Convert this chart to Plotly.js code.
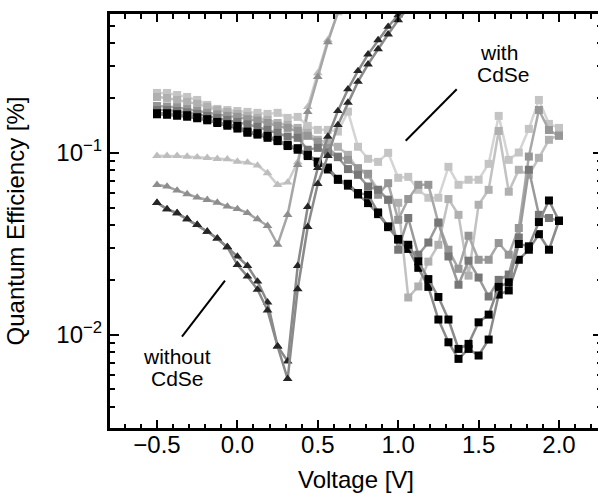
<!DOCTYPE html>
<html>
<head>
<meta charset="utf-8">
<script src="https://cdn.plot.ly/plotly-3.0.1.min.js"></script>
<style>html,body{margin:0;padding:0;overflow:hidden;background:#fff;}</style>
</head>
<body>
<div id="chart" style="width:602px;height:494px;"></div>
<script>
// Voltage grid (V)
const V = [-0.5,-0.4375,-0.375,-0.3125,-0.25,-0.1875,-0.125,-0.0625,0,0.0625,0.125,0.1875,0.25,0.3125,0.375,0.4375,0.5,0.5625,0.625,0.6875,0.75,0.8125,0.875,0.9375,1.0,1.0625,1.125,1.1875,1.25,1.3125,1.375,1.4375,1.5,1.5625,1.625,1.6875,1.75,1.8125,1.875,1.9375,2.0];

// with CdSe (squares), quantum efficiency in %
const sqLightest = [0.2136,0.2136,0.208,0.203,0.1955,0.1836,0.1745,0.172,0.170,0.168,0.166,0.1638,0.166,0.1557,0.1577,0.1407,0.1338,0.1338,0.131,0.1686,0.108,0.0927,0.0892,0.1,0.0729,0.0738,0.0626,0.0566,0.0566,0.0838,0.0667,0.0711,0.0711,0.087,0.1597,0.0915,0.1004,0.1355,0.1955,0.1443,0.1372];
const sqLight = [0.203,0.2005,0.1955,0.1906,0.186,0.179,0.172,0.168,0.1638,0.1597,0.1557,0.1518,0.146,0.1425,0.1372,0.1288,0.118,0.1135,0.108,0.0975,0.0807,0.0757,0.0626,0.0552,0.0531,0.016,0.0184,0.0252,0.0312,0.0557,0.0456,0.0211,0.0518,0.0626,0.132,0.0611,0.0807,0.0757,0.0939,0.118,0.1256];
const sqMid = [0.181,0.180,0.178,0.174,0.170,0.166,0.1627,0.1597,0.1577,0.153,0.1505,0.146,0.1407,0.1372,0.132,0.124,0.115,0.1065,0.0954,0.0915,0.0824,0.0767,0.0588,0.0681,0.0428,0.0557,0.0667,0.0667,0.0411,0.0293,0.0230,0.035,0.0258,0.0258,0.0319,0.0275,0.0386,0.0954,0.172,0.1335,0.124];
const sqDark = [0.172,0.172,0.170,0.167,0.1638,0.1597,0.1557,0.1518,0.148,0.1434,0.139,0.1338,0.1288,0.123,0.121,0.104,0.1065,0.1004,0.0947,0.0814,0.0757,0.0653,0.0626,0.0552,0.0293,0.0438,0.0275,0.0321,0.0414,0.0269,0.0188,0.0255,0.0206,0.0162,0.0200,0.0214,0.0342,0.0807,0.0456,0.0438,0.0423];
const sqBlackA = [0.1652,0.1652,0.1632,0.1611,0.1571,0.1532,0.148,0.1438,0.1407,0.1309,0.1283,0.124,0.1179,0.1106,0.1061,0.0975,0.0896,0.083,0.072,0.0676,0.0601,0.0588,0.047,0.0394,0.0336,0.0312,0.0253,0.0202,0.0161,0.0121,0.00834,0.00889,0.01168,0.01288,0.0183,0.0194,0.0315,0.0306,0.0416,0.0547,0.0423];
const sqBlackB = [0.163,0.162,0.160,0.158,0.155,0.151,0.146,0.141,0.136,0.129,0.126,0.121,0.116,0.109,0.104,0.096,0.088,0.081,0.071,0.066,0.059,0.0529,0.046,0.039,0.0333,0.0296,0.0233,0.0183,0.0121,0.00907,0.00735,0.00834,0.00767,0.00939,0.0166,0.0175,0.0258,0.0293,0.0357,0.0293,0.0423];

// without CdSe (triangles)
const triLight = [0.0963,0.0963,0.0963,0.0954,0.0947,0.0939,0.0927,0.0923,0.0896,0.0885,0.0852,0.0774,0.0667,0.0687,0.0889,0.179,0.275,0.418,0.587];
const triMid = [0.0667,0.0653,0.0621,0.0593,0.0568,0.0552,0.0533,0.0507,0.0491,0.0467,0.0432,0.0397,0.0313,0.0456,0.0859,0.168,0.262,0.407,0.596];
const triDarkA = [0.0531,0.0490,0.0466,0.0432,0.0402,0.0369,0.0338,0.0303,0.0269,0.0239,0.0196,0.01505,0.00862,0.00713,0.0239,0.0505,0.0827,0.1229,0.1701,0.2239,0.2821,0.3484,0.4177,0.4943,0.5731,0.66];
const triDarkB = [0.0531,0.0490,0.0466,0.0432,0.0402,0.0369,0.0338,0.0303,0.0242,0.0209,0.0177,0.0136,0.00862,0.00571,0.0178,0.0392,0.0676,0.0963,0.1425,0.189,0.2464,0.3072,0.3727,0.449,0.538,0.63];

const xTickVals = [-0.5,0,0.5,1,1.5,2];
const xTickText = ['\u22120.5','0.0','0.5','1.0','1.5','2.0'];
const yTickVals = [0.01,0.1];
const yTickText = ['10<sup>\u22122</sup>','10<sup>\u22121</sup>'];
const yMinorVals = [0.003,0.004,0.005,0.006,0.007,0.008,0.009,0.02,0.03,0.04,0.05,0.06,0.07,0.08,0.09,0.2,0.3,0.4,0.5];

function tr(y, sym, mcol, lcol, size){
  return {x: V.slice(0, y.length), y: y, type:'scatter', mode:'lines+markers',
    line:{color:lcol, width:2.5},
    marker:{symbol:sym, size:size, color:mcol, line:{width:0}},
    hoverinfo:'skip'};
}

const data = [
  tr(triLight,'triangle-up','#bdbdbd','#cdcdcd',8.5),
  tr(triMid,'triangle-up','#8e8e8e','#a6a6a6',8.5),
  tr(sqLightest,'square','#c4c4c4','#d4d4d4',8),
  tr(sqLight,'square','#b0b0b0','#c2c2c2',8),
  tr(sqMid,'square','#969696','#a8a8a8',8),
  tr(sqDark,'square','#777777','#999999',8),
  tr(sqBlackB,'square','#000000','#8a8a8a',8),
  tr(sqBlackA,'square','#000000','#8a8a8a',8),
  tr(triDarkA,'triangle-up','#262626','#8a8a8a',8.5),
  tr(triDarkB,'triangle-up','#262626','#8a8a8a',8.5)
];

const font = {family:'Liberation Sans, Arial, Helvetica, sans-serif', color:'#000'};
const layout = {
  width:602, height:494,
  margin:{l:110, r:0, t:14, b:66},
  paper_bgcolor:'#fff', plot_bgcolor:'#fff',
  showlegend:false,
  font: Object.assign({size:24}, font),
  xaxis:{
    range:[-0.7923, 2.2674], showgrid:false, zeroline:false,
    showline:true, linewidth:3, linecolor:'#000', mirror:'ticks',
    ticks:'inside', ticklen:8, tickwidth:2, tickcolor:'#000',
    tickmode:'array', tickvals:xTickVals, ticktext:xTickText,
    ticklabelstandoff:-7,
    tickfont:Object.assign({size:24}, font),
    minor:{ticks:'inside', ticklen:4.5, tickwidth:2, tickcolor:'#000', dtick:0.1, tick0:0, showgrid:false},
    title:{text:'Voltage [V]', font:Object.assign({size:24}, font), standoff:15}
  },
  yaxis:{
    type:'log', range:[-2.514, -0.236], showgrid:false, zeroline:false,
    showline:true, linewidth:3, linecolor:'#000', mirror:'ticks',
    ticks:'inside', ticklen:9, tickwidth:2, tickcolor:'#000',
    tickmode:'array', tickvals:yTickVals, ticktext:yTickText,
    tickfont:Object.assign({size:24}, font),
    minor:{ticks:'inside', ticklen:5, tickwidth:2, tickcolor:'#000', tickmode:'array', tickvals:yMinorVals, showgrid:false},
    title:{text:'Quantum Efficiency [%]', font:Object.assign({size:24}, font), standoff:25}
  },
  shapes:[
    {type:'line', xref:'paper', yref:'paper', x0:0.1463, y0:0.2205, x1:0.2337, y1:0.3558, line:{color:'#000', width:2}},
    {type:'line', xref:'paper', yref:'paper', x0:0.601, y0:0.694, x1:0.7047, y1:0.8181, line:{color:'#000', width:2}}
  ],
  annotations:[
    {text:'without', xref:'paper', yref:'paper', x:0.1362, y:0.1715, xanchor:'center', yanchor:'middle', showarrow:false, font:Object.assign({size:21}, font)},
    {text:'CdSe', xref:'paper', yref:'paper', x:0.1382, y:0.1184, xanchor:'center', yanchor:'middle', showarrow:false, font:Object.assign({size:21}, font)},
    {text:'with', xref:'paper', yref:'paper', x:0.7907, y:0.9082, xanchor:'center', yanchor:'middle', showarrow:false, font:Object.assign({size:21}, font)},
    {text:'CdSe', xref:'paper', yref:'paper', x:0.7988, y:0.8527, xanchor:'center', yanchor:'middle', showarrow:false, font:Object.assign({size:21}, font)}
  ]
};
Plotly.newPlot('chart', data, layout, {staticPlot:true, displayModeBar:false});
</script>
</body>
</html>
